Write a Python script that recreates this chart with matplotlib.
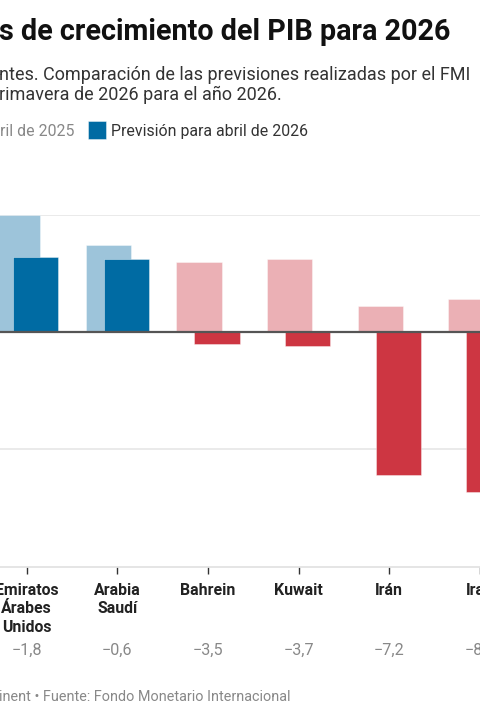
import matplotlib
matplotlib.use("Agg")
import matplotlib.pyplot as plt
import numpy as np

plt.rcParams['font.family'] = ['Roboto', 'DejaVu Sans']

categories = ["Emiratos\nÁrabes\nUnidos", "Arabia\nSaudí", "Bahrein", "Kuwait", "Irán", "Irak"]
prev_2025 = [5.0, 3.7, 3.0, 3.1, 1.1, 1.4]
prev_2026 = [3.2, 3.1, -0.5, -0.6, -6.1, -6.8]
diff_labels = ["−1,8", "−0,6", "−3,5", "−3,7", "−7,2", "−8,2"]
y_grid = [-5, 5]

title = "s de crecimiento del PIB para 2026"
subtitle1 = "ntes. Comparación de las previsiones realizadas por el FMI"
subtitle2 = "rimavera de 2026 para el año 2026."
legend1 = "ril de 2025"
legend2 = "Previsión para abril de 2026"
footer = "inent • Fuente: Fondo Monetario Internacional"

LB, DB = "#9dc4da", "#006ba3"
LR, DR = "#ebb0b5", "#cd3642"

W, H = 480, 720
fig = plt.figure(figsize=(4.8, 7.2), dpi=100)

def fy(px):
    return 1 - px / H

def fx(px):
    return px / W

y_top_px, y_bot_px = 214.7, 566.7
ax = fig.add_axes([0, fy(y_bot_px), 1, (y_bot_px - y_top_px) / H])
ax.set_ylim(-10, 5)
ax.set_xlim(-27 / 92.2, (480 - 27) / 92.2)

x = np.arange(len(categories))
light_cols = [LB if v >= 0 else LR for v in prev_2026]
dark_cols = [DB if v >= 0 else DR for v in prev_2026]

for g in y_grid:
    ax.axhline(g, color="#e6e6e6", lw=1.2, zorder=0)

ax.bar(x - 0.1, prev_2025, width=0.5, color=light_cols, edgecolor=(1, 1, 1, 0.45), lw=0.6, zorder=2)
ax.bar(x + 0.1, prev_2026, width=0.5, color=dark_cols, edgecolor=(1, 1, 1, 0.45), lw=0.6, zorder=3)
ax.axhline(0, color="#555555", lw=1.6, zorder=4)

for s in ["top", "left", "right"]:
    ax.spines[s].set_visible(False)
ax.spines["bottom"].set_color("#e0e0e0")
ax.spines["bottom"].set_linewidth(1.2)
ax.set_yticks([])
ax.set_xticks(x)
ax.set_xticklabels([])
ax.tick_params(axis="x", length=5, width=1, color="#333333")

line_offsets_pt = [20.4, 33.6, 46.8]
for xi, cat, d in zip(x, categories, diff_labels):
    for line, off in zip(cat.split("\n"), line_offsets_pt):
        ax.annotate(line, xy=(xi, 0), xycoords=("data", "axes fraction"),
                    xytext=(0, -off), textcoords="offset points",
                    ha="center", va="baseline", fontsize=11.4, fontweight="bold",
                    color="#222222", annotation_clip=False)
    ax.annotate(d, xy=(xi, 0), xycoords=("data", "axes fraction"),
                xytext=(0, -63.6), textcoords="offset points",
                ha="center", va="baseline", fontsize=11.6,
                color="#888888", annotation_clip=False)

fig.text(fx(-1), fy(39.5), title, fontsize=20.7, fontweight="bold", color="#111111", va="baseline")
fig.text(fx(-1), fy(79.5), subtitle1, fontsize=13.0, color="#333333", va="baseline")
fig.text(fx(-1), fy(100.5), subtitle2, fontsize=13.0, color="#333333", va="baseline")

fig.text(fx(74), fy(136), legend1, fontsize=11.4, color="#888888", va="baseline", ha="right")
fig.patches.append(plt.Rectangle((fx(88), fy(139)), fx(18), 18 / H, transform=fig.transFigure,
                                 facecolor=DB, edgecolor=(1, 1, 1, 0.5), lw=0.6))
fig.text(fx(111), fy(136), legend2, fontsize=11.4, color="#333333", va="baseline")

fig.text(fx(-1), fy(701), footer, fontsize=10.4, color="#888888", va="baseline")

fig.savefig("out.png", dpi=100, facecolor="white")
